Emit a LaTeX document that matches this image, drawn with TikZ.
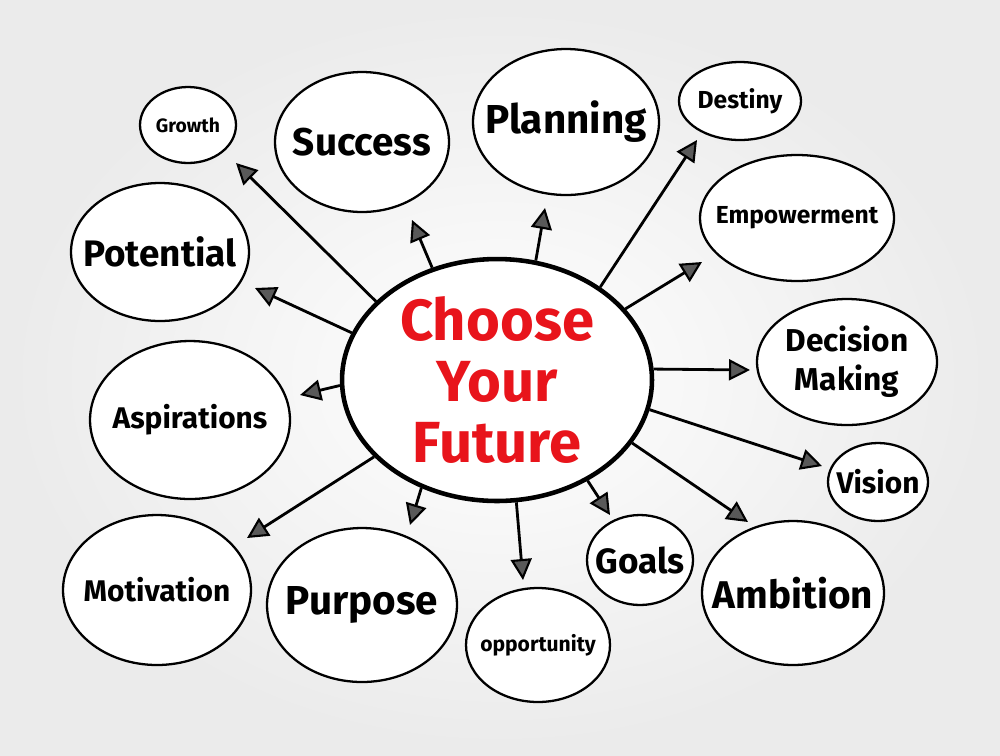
\documentclass[tikz,border=0pt]{standalone}
\usepackage{fontspec}
\setmainfont{Fira Sans}
\usepackage{xcolor}
\usetikzlibrary{shapes.geometric,arrows.meta}
\definecolor{mapred}{HTML}{E8141B}
\tikzset{every node/.style={align=center}}
\tikzset{bubble/.style={ellipse,draw,line width=1.3pt,fill=white,inner sep=0pt}}
\tikzset{every label/.style={font=\bfseries}}
\tikzset{arr/.style={line width=1.6pt,-{Triangle[length=0.42cm,width=0.42cm,fill=black!65,line width=1.2pt]}}}

\begin{document}
\begin{tikzpicture}[x=0.02cm,y=-0.02cm]
\shade[inner color=white,outer color=black!8] (0,0) rectangle (1000,755);
\useasboundingbox (0,0) rectangle (1000,755);

\node[ellipse,draw,line width=2.6pt,fill=white,inner sep=0pt,minimum width=6.2cm,minimum height=4.84cm,
  label={[text=mapred,font=\bfseries\fontsize{33}{35}\selectfont]center:Choose\\Your\\Future}] (C) at (497,380) {};

\node[bubble,minimum width=1.92cm,minimum height=1.52cm,label={[font=\bfseries\fontsize{11}{13}\selectfont]center:Growth}] (Gr) at (188,125) {};
\node[bubble,minimum width=3.48cm,minimum height=2.8cm,label={[font=\bfseries\fontsize{22}{26}\selectfont]center:Success}] (Su) at (362,142) {};
\node[bubble,minimum width=3.72cm,minimum height=2.92cm,label={[font=\bfseries\fontsize{23}{26}\selectfont]center:Planning}] (Pl) at (566,122) {};
\node[bubble,minimum width=2.44cm,minimum height=1.56cm,label={[font=\bfseries\fontsize{14}{16}\selectfont]center:Destiny}] (De) at (740,101) {};
\node[bubble,minimum width=3.88cm,minimum height=2.52cm,label={[font=\bfseries\fontsize{14}{16}\selectfont]center:Empowerment}] (Em) at (797,218) {};
\node[bubble,minimum width=3.56cm,minimum height=2.76cm,label={[font=\bfseries\fontsize{21}{24}\selectfont]center:Potential}] (Po) at (160,252) {};
\node[bubble,minimum width=3.6cm,minimum height=2.52cm,label={[font=\bfseries\fontsize{18}{22}\selectfont]center:Decision\\Making}] (Dm) at (847,362) {};
\node[bubble,minimum width=4.0cm,minimum height=3.16cm,label={[font=\bfseries\fontsize{17}{20}\selectfont]center:Aspirations}] (As) at (190,420) {};
\node[bubble,minimum width=2.0cm,minimum height=1.56cm,label={[font=\bfseries\fontsize{17}{20}\selectfont]center:Vision}] (Vi) at (878,482) {};
\node[bubble,minimum width=3.76cm,minimum height=3.0cm,label={[font=\bfseries\fontsize{17}{20}\selectfont]center:Motivation}] (Mo) at (157,590) {};
\node[bubble,minimum width=3.8cm,minimum height=3.08cm,label={[font=\bfseries\fontsize{23}{26}\selectfont]center:Purpose}] (Pu) at (362,605) {};
\node[bubble,minimum width=2.88cm,minimum height=2.28cm,label={[font=\bfseries\fontsize{12}{14}\selectfont]center:opportunity}] (Op) at (538,645) {};
\node[bubble,minimum width=2.12cm,minimum height=1.8cm,label={[font=\bfseries\fontsize{20}{22}\selectfont]center:Goals}] (Go) at (640,560) {};
\node[bubble,minimum width=3.64cm,minimum height=2.88cm,label={[font=\bfseries\fontsize{22}{26}\selectfont]center:Ambition}] (Am) at (793,593) {};

% arrow tips
\coordinate (tGr) at (236,163);
\coordinate (tSu) at (412,220);
\coordinate (tPl) at (545,208);
\coordinate (tDe) at (697,140);
\coordinate (tEm) at (702,262);
\coordinate (tPo) at (255,288);
\coordinate (tDm) at (750,370);
\coordinate (tAs) at (300,395);
\coordinate (tVi) at (822,466);
\coordinate (tMo) at (247,538);
\coordinate (tPu) at (410,525);
\coordinate (tOp) at (523,580);
\coordinate (tGo) at (610,515);
\coordinate (tAm) at (748,522);

\foreach \t/\a in {Gr/147,Su/120,Pl/72,De/42,Em/29,Po/162,Dm/4,As/182,Vi/349,Mo/212,Pu/235,Op/279,Go/312,Am/335}
  \draw[arr] (C.\a) -- (t\t);

\end{tikzpicture}
\end{document}
